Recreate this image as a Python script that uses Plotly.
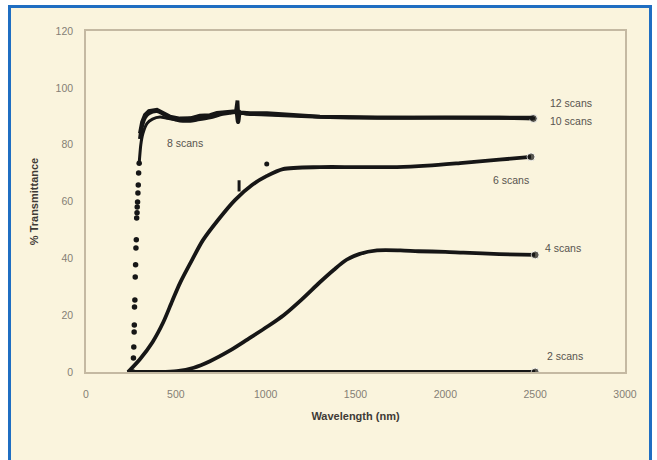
import plotly.graph_objects as go

# ---- data ----
x_ticks = [0, 500, 1000, 1500, 2000, 2500, 3000]
y_ticks = [0, 20, 40, 60, 80, 100, 120]

scans2_x = [230, 600, 1000, 1500, 2000, 2500]
scans2_y = [0, 0, 0, 0, 0, 0]

scans4_x = [230, 400, 506, 600, 690, 800, 900, 1010, 1100, 1200, 1300, 1380, 1450, 1520,
            1620, 1750, 1850, 2000, 2100, 2300, 2500]
scans4_y = [0, 0, 0.3, 1.5, 3.8, 7.5, 11.5, 16, 20, 25.5, 31.5, 36, 39.5, 41.5,
            42.8, 42.8, 42.5, 42.3, 42, 41.5, 41.2]

scans6_x = [234, 300, 370, 430, 480, 523, 590, 651, 735, 829, 924, 1007, 1096, 1302, 1500,
            1731, 1900, 2082, 2300, 2477]
scans6_y = [0, 4.5, 10.5, 17.5, 25, 31.3, 39.4, 46.4, 53.5, 60.5, 65.8, 69, 71.4, 72.1, 72.1,
            72.1, 72.6, 73.5, 74.7, 75.7]
scans6_tick_x = [852]
scans6_tick_y = [65.5]
scans6_dot_x = [1006]
scans6_dot_y = [73.2]

scans8_rise_x = [262, 264, 266, 268, 269, 270, 272, 274, 276, 278, 280, 282, 284, 285,
                 287, 289, 291, 293, 296]
scans8_rise_y = [0, 4.9, 8.8, 14.1, 16.5, 22.9, 25.3, 33.4, 37.7, 43.6, 46.5, 54.2, 56,
                 58.1, 59.8, 63, 65.8, 70, 73.5]

scans8_x = [296, 305, 317, 340, 370, 412, 450, 500, 560, 620, 690, 760, 800, 900, 1000,
            1300, 1700, 2100, 2500]
scans8_y = [73.5, 80, 84, 87.5, 89, 89.7, 89.3, 88.8, 89.2, 89.6, 90.2, 91, 91.4, 90.8,
            90.7, 89.8, 89.5, 89.4, 89.3]

scans10_x = [300, 310, 328, 350, 395, 430, 467, 523, 580, 618, 690, 760, 800, 835, 845,
             848, 858, 913, 1007, 1302, 1620, 2000, 2300, 2490]
scans10_y = [82, 86, 89.5, 91, 91.8, 90.8, 89.5, 88.5, 88.4, 88.8, 89.6, 90.8, 91.2, 91.3,
             88, 88, 91, 90.8, 90.6, 89.8, 89.4, 89.5, 89.5, 89.2]

scans12_x = [300, 312, 328, 350, 395, 430, 467, 523, 580, 634, 690, 729, 785, 835, 843,
             846, 858, 913, 1007, 1191, 1302, 1620, 2000, 2300, 2490]
scans12_y = [84, 88, 90.5, 91.8, 92.3, 91, 89.9, 89.2, 89.3, 90.2, 90.4, 91.2, 91.6, 91.8,
             95.5, 92, 91.4, 91.1, 91.1, 90.4, 89.9, 89.6, 89.5, 89.6, 89.5]

labels = ["12 scans", "10 scans", "8 scans", "6 scans", "4 scans", "2 scans"]
label_x = [2571, 2571, 440, 2254, 2544, 2555]
label_y = [94.7, 88.3, 80.6, 67.6, 43.6, 5.6]

# ---- styles ----
INK = "#161616"
CREAM = "#faf4dd"
BLUE = "#1f6ec2"
AXIS = "#c4b9a2"

fig = go.Figure()

def line_trace(xs, ys, end_marker=False, width=3.8):
    sizes = [0] * len(xs)
    if end_marker:
        sizes[-1] = 8
    return go.Scatter(x=xs, y=ys, mode="lines+markers" if end_marker else "lines",
                      line=dict(color=INK, width=width, shape="spline", smoothing=0.8),
                      marker=dict(size=sizes, color=INK) if end_marker else None,
                      hoverinfo="skip", showlegend=False)

fig.add_trace(line_trace(scans2_x, scans2_y, end_marker=True, width=4.2))
fig.add_trace(line_trace(scans4_x, scans4_y, end_marker=True))
fig.add_trace(line_trace(scans6_x, scans6_y, end_marker=True))
fig.add_trace(go.Scatter(x=scans6_tick_x, y=scans6_tick_y, mode="markers",
                         marker=dict(symbol="line-ns-open", size=8, color=INK,
                                     line=dict(width=3, color=INK)),
                         hoverinfo="skip", showlegend=False))
fig.add_trace(go.Scatter(x=scans6_dot_x, y=scans6_dot_y, mode="markers",
                         marker=dict(size=5, color=INK), hoverinfo="skip", showlegend=False))
fig.add_trace(go.Scatter(x=scans8_rise_x, y=scans8_rise_y, mode="markers",
                         marker=dict(size=5.5, color=INK), hoverinfo="skip", showlegend=False))
fig.add_trace(go.Scatter(x=scans8_x, y=scans8_y, mode="lines",
                         line=dict(color=INK, width=3, shape="spline", smoothing=0.6),
                         hoverinfo="skip", showlegend=False))
fig.add_trace(line_trace(scans10_x, scans10_y, end_marker=True))
fig.add_trace(go.Scatter(x=scans12_x, y=scans12_y, mode="lines",
                         line=dict(color=INK, width=3.8),
                         hoverinfo="skip", showlegend=False))

for t, lx, ly in zip(labels, label_x, label_y):
    fig.add_annotation(x=lx, y=ly, text=t, showarrow=False, xanchor="left", yanchor="middle",
                       font=dict(family="Arial, Liberation Sans", size=10.5, color="#57534e"))

# frame: cream panel with blue border
L, R, T, B = 86, 32, 31, 88
W, H = 657, 460
pw, ph = W - L - R, H - T - B
def px(xp):
    return (xp - L) / pw
def py(yp):
    return (H - B - yp) / ph

fig.add_shape(type="rect", xref="paper", yref="paper", layer="below",
              x0=px(9.5), x1=px(650.5), y0=py(480), y1=py(6.5),
              fillcolor=CREAM, line=dict(color=BLUE, width=3))

axis_font = dict(family="Arial, Liberation Sans", size=10.5, color="#857f75")
title_font = dict(family="Arial, Liberation Sans", size=11, color="#3f3b36")

fig.update_layout(
    width=W, height=H,
    margin=dict(l=L, r=R, t=T, b=B),
    paper_bgcolor="white",
    plot_bgcolor="rgba(0,0,0,0)",
    xaxis=dict(range=[0, 3000], tickvals=x_ticks, ticktext=[str(v) for v in x_ticks],
               showgrid=False, zeroline=False, showline=True, linecolor=AXIS, linewidth=1.5,
               mirror=True, ticks="", ticklabelstandoff=12, tickfont=axis_font,
               title=dict(text="<b>Wavelength (nm)</b>", font=title_font, standoff=13)),
    yaxis=dict(range=[0, 120], tickvals=y_ticks, ticktext=[str(v) for v in y_ticks],
               showgrid=False, zeroline=False, showline=True, linecolor=AXIS, linewidth=1.5,
               mirror=True, ticks="", ticklabelstandoff=9, tickfont=axis_font,
               title=dict(text="<b>% Transmittance</b>", font=title_font, standoff=15)),
)

fig.write_html("out.html")
